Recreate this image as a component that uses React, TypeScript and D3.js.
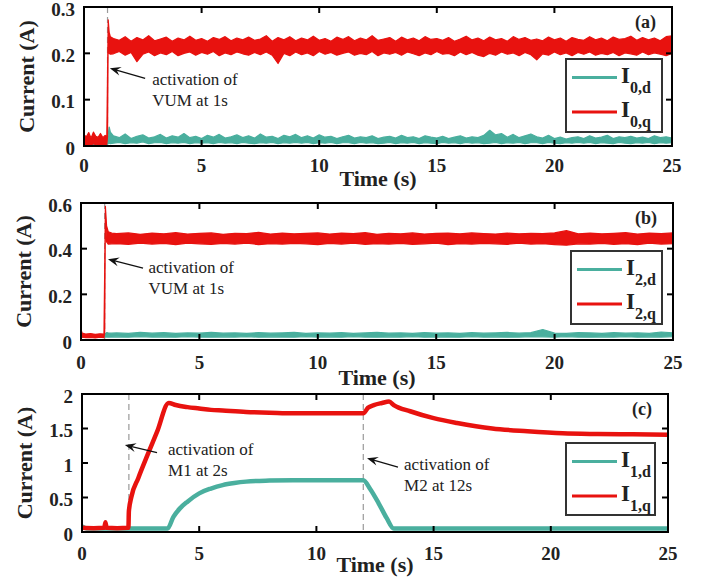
import React, { useRef, useEffect } from "react";
import * as d3 from "d3";

const TEAL = "#4aaf9e";
const RED = "#e8120f";
const SERIF = "'Liberation Serif', 'Times New Roman', serif";

const xTicks = [0, 5, 10, 15, 20, 25];
const yTicksA = [0, 0.1, 0.2, 0.3];
const yTicksB = [0, 0.2, 0.4, 0.6];
const yTicksC = [0, 0.5, 1, 1.5, 2];

// ---- panel (a): I0 (noisy, kept as upper / lower envelope per sample) ----
const tA = [0, 0.1, 0.2, 0.3, 0.4, 0.5, 0.6, 0.7, 0.8, 0.9, 0.97, 1.0, 1.03, 1.07, 1.12].concat(
  d3.range(1.25, 25.001, 0.25)
);
const i0qHi = [
  0.024, 0.02, 0.029, 0.017, 0.03, 0.021, 0.019, 0.027, 0.018, 0.023, 0.02, 0.15, 0.272, 0.245, 0.236,
  0.232, 0.228, 0.236, 0.226, 0.234, 0.229, 0.238, 0.227,
  0.231, 0.235, 0.226, 0.233, 0.229, 0.237, 0.228, 0.232,
  0.226, 0.234, 0.23, 0.236, 0.227, 0.233, 0.229, 0.235,
  0.228, 0.231, 0.238, 0.226, 0.234, 0.229, 0.236, 0.227,
  0.233, 0.229, 0.237, 0.228, 0.232, 0.226, 0.235, 0.23,
  0.236, 0.227, 0.233, 0.229, 0.238, 0.228, 0.231, 0.234,
  0.226, 0.235, 0.229, 0.233, 0.227, 0.236, 0.23, 0.232,
  0.228, 0.234, 0.226, 0.231, 0.237, 0.229, 0.233, 0.227,
  0.235, 0.229, 0.232, 0.226, 0.236, 0.23, 0.234, 0.228,
  0.231, 0.227, 0.235, 0.229, 0.233, 0.226, 0.234, 0.23,
  0.228, 0.236, 0.229, 0.233, 0.227, 0.235, 0.23, 0.232,
  0.237, 0.228, 0.234, 0.229, 0.233, 0.227, 0.236, 0.238,
];
const i0qLo = [
  0.002, 0.004, 0.003, 0.002, 0.005, 0.003, 0.002, 0.004, 0.003, 0.002, 0.004, 0.02, 0.25, 0.2, 0.198,
  0.199, 0.204, 0.196, 0.202, 0.182, 0.198, 0.203, 0.195,
  0.201, 0.197, 0.204, 0.195, 0.2, 0.203, 0.196, 0.202,
  0.198, 0.204, 0.195, 0.201, 0.197, 0.203, 0.199, 0.196,
  0.202, 0.197, 0.203, 0.196, 0.178, 0.2, 0.195, 0.203,
  0.197, 0.201, 0.195, 0.204, 0.198, 0.202, 0.196, 0.2,
  0.203, 0.196, 0.2, 0.197, 0.204, 0.195, 0.201, 0.198,
  0.202, 0.196, 0.203, 0.199, 0.195, 0.201, 0.197, 0.204,
  0.198, 0.2, 0.195, 0.203, 0.197, 0.202, 0.196, 0.193,
  0.2, 0.196, 0.203, 0.198, 0.201, 0.195, 0.202, 0.197,
  0.186, 0.199, 0.196, 0.203, 0.197, 0.201, 0.195, 0.202,
  0.198, 0.203, 0.196, 0.2, 0.197, 0.202, 0.195, 0.201,
  0.199, 0.196, 0.203, 0.197, 0.201, 0.198, 0.195, 0.2,
];
const i0dHi = [
  0.012, 0.01, 0.013, 0.009, 0.012, 0.011, 0.01, 0.013, 0.01, 0.011, 0.01, 0.012, 0.024, 0.041, 0.03,
  0.022, 0.018, 0.026, 0.016, 0.021, 0.024, 0.017, 0.02,
  0.025, 0.017, 0.022, 0.019, 0.027, 0.018, 0.021, 0.016,
  0.023, 0.019, 0.025, 0.017, 0.02, 0.024, 0.018, 0.022,
  0.017, 0.026, 0.019, 0.021, 0.016, 0.023, 0.02, 0.025,
  0.018, 0.022, 0.017, 0.024, 0.019, 0.021, 0.016, 0.02,
  0.023, 0.017, 0.02, 0.018, 0.022, 0.016, 0.019, 0.021,
  0.017, 0.023, 0.018, 0.02, 0.016, 0.022, 0.019, 0.017,
  0.021, 0.016, 0.019, 0.022, 0.017, 0.02, 0.018, 0.023,
  0.034, 0.024, 0.027, 0.019, 0.025, 0.018, 0.022, 0.026,
  0.02, 0.017, 0.023, 0.016, 0.019, 0.015, 0.018, 0.02,
  0.016, 0.022, 0.017, 0.019, 0.023, 0.016, 0.02, 0.018,
  0.021, 0.017, 0.019, 0.016, 0.022, 0.018, 0.02, 0.017,
];
const i0dLo = [
  0.003, 0.003, 0.004, 0.003, 0.003, 0.004, 0.003, 0.003, 0.004, 0.003, 0.003, 0.004, 0.005, 0.006, 0.005,
  0.006, 0.008, 0.005, 0.007, 0.006, 0.009, 0.005, 0.007,
  0.008, 0.005, 0.007, 0.006, 0.008, 0.005, 0.007, 0.006,
  0.007, 0.005, 0.008, 0.006, 0.007, 0.005, 0.008, 0.006,
  0.005, 0.007, 0.006, 0.008, 0.005, 0.007, 0.006, 0.008,
  0.006, 0.008, 0.005, 0.007, 0.006, 0.008, 0.005, 0.007,
  0.007, 0.005, 0.008, 0.006, 0.007, 0.005, 0.006, 0.008,
  0.005, 0.007, 0.006, 0.008, 0.005, 0.007, 0.006, 0.005,
  0.008, 0.006, 0.007, 0.005, 0.008, 0.006, 0.007, 0.005,
  0.006, 0.008, 0.005, 0.007, 0.006, 0.008, 0.005, 0.007,
  0.007, 0.005, 0.008, 0.006, 0.005, 0.007, 0.006, 0.008,
  0.006, 0.008, 0.005, 0.007, 0.006, 0.005, 0.008, 0.006,
  0.005, 0.007, 0.006, 0.008, 0.005, 0.007, 0.006, 0.007,
];

// ---- panel (b): I2 ----
const tB = [0, 0.05, 0.2, 0.4, 0.6, 0.8, 0.97, 1.0, 1.03, 1.08, 1.15, 1.3].concat(d3.range(1.5, 25.001, 0.5));
const i2qHi = [
  0.045, 0.03, 0.026, 0.028, 0.025, 0.027, 0.026, 0.3, 0.585, 0.5, 0.474, 0.468,
  0.466, 0.469, 0.463, 0.468, 0.465, 0.47, 0.464, 0.467,
  0.469, 0.463, 0.467, 0.466, 0.471, 0.464, 0.468, 0.465,
  0.467, 0.469, 0.464, 0.468, 0.466, 0.47, 0.463, 0.467,
  0.465, 0.469, 0.464, 0.467, 0.468, 0.465, 0.469, 0.466,
  0.464, 0.468, 0.465, 0.467, 0.466, 0.469, 0.479, 0.465,
  0.468, 0.465, 0.467, 0.47, 0.464, 0.468, 0.466, 0.469,
];
const i2qLo = [
  0.02, 0.012, 0.01, 0.011, 0.009, 0.012, 0.01, 0.03, 0.55, 0.43, 0.42, 0.421,
  0.422, 0.419, 0.424, 0.42, 0.423, 0.418, 0.424, 0.421,
  0.419, 0.423, 0.42, 0.424, 0.418, 0.422, 0.42, 0.423,
  0.421, 0.418, 0.423, 0.42, 0.424, 0.419, 0.422, 0.42,
  0.423, 0.419, 0.421, 0.424, 0.418, 0.422, 0.42, 0.423,
  0.421, 0.419, 0.424, 0.42, 0.422, 0.418, 0.415, 0.421,
  0.42, 0.423, 0.419, 0.422, 0.418, 0.424, 0.42, 0.422,
];
const i2dHi = [
  0.03, 0.025, 0.022, 0.024, 0.022, 0.023, 0.022, 0.024, 0.028, 0.032, 0.031, 0.03,
  0.031, 0.029, 0.033, 0.03, 0.032, 0.029, 0.031, 0.03,
  0.033, 0.03, 0.031, 0.029, 0.032, 0.03, 0.031, 0.033,
  0.029, 0.031, 0.03, 0.032, 0.029, 0.031, 0.033, 0.03,
  0.031, 0.029, 0.032, 0.03, 0.031, 0.029, 0.032, 0.03,
  0.031, 0.033, 0.03, 0.032, 0.046, 0.03, 0.029, 0.032,
  0.031, 0.029, 0.032, 0.03, 0.031, 0.029, 0.035, 0.031,
];
const i2dLo = [
  0.012, 0.011, 0.012, 0.011, 0.012, 0.011, 0.012, 0.012, 0.013, 0.013, 0.012, 0.013,
  0.014, 0.012, 0.015, 0.013, 0.014, 0.012, 0.015, 0.013,
  0.012, 0.014, 0.013, 0.015, 0.012, 0.014, 0.013, 0.012,
  0.015, 0.013, 0.014, 0.012, 0.015, 0.013, 0.012, 0.014,
  0.013, 0.015, 0.012, 0.014, 0.013, 0.012, 0.015, 0.013,
  0.014, 0.012, 0.013, 0.015, 0.014, 0.012, 0.015, 0.013,
  0.012, 0.014, 0.013, 0.015, 0.012, 0.014, 0.013, 0.015,
];

// ---- panel (c): I1 (smooth, drawn as thick lines) ----
const tCq = [0, 0.5, 0.95, 1.0, 1.05, 1.5, 1.98, 2.0, 2.1, 2.4, 2.8, 3.2, 3.7, 4.0, 4.5, 5, 5.5, 6, 7, 8, 9, 10, 11, 12, 12.2, 12.45, 12.8, 13.1, 13.3, 14, 15, 16, 17.5, 19, 20.5, 22, 23.5, 25];
const i1q = [0.06, 0.055, 0.06, 0.14, 0.06, 0.055, 0.06, 0.3, 0.5, 0.78, 1.12, 1.45, 1.87, 1.84, 1.81, 1.79, 1.77, 1.76, 1.74, 1.73, 1.72, 1.72, 1.72, 1.72, 1.8, 1.84, 1.87, 1.89, 1.84, 1.75, 1.65, 1.58, 1.5, 1.46, 1.43, 1.42, 1.415, 1.41];
const tCd = [0, 0.2, 1, 2, 3, 3.65, 3.9, 4.2, 4.5, 5, 5.5, 6, 6.5, 7, 8, 9, 10, 11, 12, 12.3, 12.65, 13, 13.3, 14, 17, 20, 25];
const i1d = [0.08, 0.05, 0.05, 0.05, 0.05, 0.05, 0.22, 0.35, 0.44, 0.56, 0.63, 0.68, 0.71, 0.73, 0.745, 0.75, 0.75, 0.75, 0.75, 0.62, 0.42, 0.2, 0.05, 0.05, 0.05, 0.05, 0.05];

const panels = [
  {
    tag: "(a)", left: 84, right: 672, top: 7, bottom: 146, yMax: 0.3, yTicks: yTicksA,
    tickGap: 26, titleGap: 40,
    markers: [1],
    series: [
      { t: tA, hi: i0dHi, lo: i0dLo, color: TEAL },
      { t: tA, hi: i0qHi, lo: i0qLo, color: RED },
    ],
    legend: { x: 566, y: 59, w: 96, h: 73, sub: ["0,d", "0,q"] },
    notes: [{ tip: [1.1, 0.168], tail: [2.6, 0.146], at: [2.9, 0.131], lines: ["activation of", "VUM at 1s"] }],
  },
  {
    tag: "(b)", left: 81, right: 673, top: 203, bottom: 340, yMax: 0.6, yTicks: yTicksB,
    tickGap: 28.5, titleGap: 45,
    markers: [1],
    series: [
      { t: tB, hi: i2dHi, lo: i2dLo, color: TEAL },
      { t: tB, hi: i2qHi, lo: i2qLo, color: RED },
    ],
    legend: { x: 571, y: 251, w: 91, h: 73, sub: ["2,d", "2,q"] },
    notes: [{ tip: [1.14, 0.354], tail: [2.62, 0.315], at: [2.85, 0.293], lines: ["activation of", "VUM at 1s"] }],
  },
  {
    tag: "(c)", left: 82, right: 668, top: 394, bottom: 532, yMax: 2, yTicks: yTicksC,
    tickGap: 27.5, titleGap: 40,
    markers: [2, 12],
    series: [
      { t: tCd, v: i1d, color: TEAL },
      { t: tCq, v: i1q, color: RED },
    ],
    legend: { x: 566, y: 443, w: 89, h: 72, sub: ["1,d", "1,q"] },
    notes: [
      { tip: [1.83, 1.26], tail: [3.2, 1.15], at: [3.67, 1.12], lines: ["activation of", "M1 at 2s"] },
      { tip: [12.16, 1.07], tail: [13.48, 0.94], at: [13.74, 0.9], lines: ["activation of", "M2 at 12s"] },
    ],
  },
];

function drawPanel(svg, p) {
  const x = d3.scaleLinear().domain([0, 25]).range([p.left, p.right]);
  const y = d3.scaleLinear().domain([0, p.yMax]).range([p.bottom, p.top]);
  const g = svg.append("g");

  // dashed event markers
  p.markers.forEach((t) => {
    g.append("line")
      .attr("x1", x(t)).attr("x2", x(t))
      .attr("y1", p.top).attr("y2", p.bottom)
      .attr("stroke", "#9a9a9a")
      .attr("stroke-width", 1.2)
      .attr("stroke-dasharray", "6,4");
  });

  p.series.forEach((s) => {
    if (s.hi) {
      const area = d3.area()
        .x((_, i) => x(s.t[i]))
        .y0((_, i) => y(s.lo[i]))
        .y1((d) => y(d));
      g.append("path")
        .attr("d", area(s.hi))
        .attr("fill", s.color)
        .attr("stroke", s.color)
        .attr("stroke-width", 1.2)
        .attr("stroke-linejoin", "round");
    } else {
      const line = d3.line()
        .x((_, i) => x(s.t[i]))
        .y((d) => y(d))
        .curve(d3.curveMonotoneX);
      g.append("path")
        .attr("d", line(s.v))
        .attr("fill", "none")
        .attr("stroke", s.color)
        .attr("stroke-width", 4.5)
        .attr("stroke-linejoin", "round");
    }
  });

  // frame and inward ticks on all four sides
  g.append("rect")
    .attr("x", p.left).attr("y", p.top)
    .attr("width", p.right - p.left).attr("height", p.bottom - p.top)
    .attr("fill", "none").attr("stroke", "#000").attr("stroke-width", 2);

  const tk = 6;
  xTicks.forEach((t) => {
    g.append("line").attr("x1", x(t)).attr("x2", x(t)).attr("y1", p.bottom).attr("y2", p.bottom - tk)
      .attr("stroke", "#000").attr("stroke-width", 2);
    g.append("line").attr("x1", x(t)).attr("x2", x(t)).attr("y1", p.top).attr("y2", p.top + tk)
      .attr("stroke", "#000").attr("stroke-width", 2);
    g.append("text")
      .attr("x", x(t)).attr("y", p.bottom + p.tickGap)
      .attr("text-anchor", "middle")
      .attr("font-family", SERIF).attr("font-weight", "bold").attr("font-size", 19)
      .attr("fill", "#222")
      .text(t);
  });
  p.yTicks.forEach((v) => {
    g.append("line").attr("x1", p.left).attr("x2", p.left + tk).attr("y1", y(v)).attr("y2", y(v))
      .attr("stroke", "#000").attr("stroke-width", 2);
    g.append("line").attr("x1", p.right).attr("x2", p.right - tk).attr("y1", y(v)).attr("y2", y(v))
      .attr("stroke", "#000").attr("stroke-width", 2);
    g.append("text")
      .attr("x", p.left - 9).attr("y", y(v))
      .attr("dy", "0.45em")
      .attr("text-anchor", "end")
      .attr("font-family", SERIF).attr("font-weight", "bold").attr("font-size", 19)
      .attr("fill", "#222")
      .text(v);
  });

  // axis titles
  g.append("text")
    .attr("x", (p.left + p.right) / 2).attr("y", p.bottom + p.titleGap)
    .attr("text-anchor", "middle")
    .attr("font-family", SERIF).attr("font-weight", "bold").attr("font-size", 22)
    .attr("fill", "#222")
    .text("Time (s)");
  g.append("text")
    .attr("transform", `translate(${p.left - 58},${(p.top + p.bottom) / 2}) rotate(-90)`)
    .attr("dy", "0.35em")
    .attr("text-anchor", "middle")
    .attr("font-family", SERIF).attr("font-weight", "bold").attr("font-size", 22)
    .attr("fill", "#222")
    .text("Current (A)");

  g.append("text")
    .attr("x", p.right - 16).attr("y", p.top + 21)
    .attr("text-anchor", "end")
    .attr("font-family", SERIF).attr("font-weight", "bold").attr("font-size", 18)
    .attr("fill", "#222")
    .text(p.tag);

  // annotations
  p.notes.forEach((n) => {
    const [tx, ty] = [x(n.tip[0]), y(n.tip[1])];
    const [bx, by] = [x(n.tail[0]), y(n.tail[1])];
    const ang = Math.atan2(ty - by, tx - bx);
    const ux = Math.cos(ang), uy = Math.sin(ang);
    g.append("line").attr("x1", bx).attr("y1", by).attr("x2", tx - ux * 6).attr("y2", ty - uy * 6)
      .attr("stroke", "#111").attr("stroke-width", 1.3);
    const L = 11, Wd = 4.5;
    const head = [
      [tx, ty],
      [tx - ux * L - uy * Wd, ty - uy * L + ux * Wd],
      [tx - ux * 7, ty - uy * 7],
      [tx - ux * L + uy * Wd, ty - uy * L - ux * Wd],
    ];
    g.append("path").attr("d", "M" + head.map((q) => q.join(",")).join("L") + "Z").attr("fill", "#111");
    n.lines.forEach((s, i) => {
      g.append("text")
        .attr("x", x(n.at[0])).attr("y", y(n.at[1]) + i * 21)
        .attr("font-family", SERIF).attr("font-size", 17)
        .attr("fill", "#222")
        .text(s);
    });
  });

  // legend
  const lg = p.legend;
  g.append("rect")
    .attr("x", lg.x).attr("y", lg.y).attr("width", lg.w).attr("height", lg.h)
    .attr("fill", "#fff").attr("stroke", "#333").attr("stroke-width", 2);
  p.series.forEach((s, i) => {
    const ry = lg.y + (i === 0 ? 18.5 : 53);
    g.append("line")
      .attr("x1", lg.x + 6).attr("x2", lg.x + 51).attr("y1", ry).attr("y2", ry)
      .attr("stroke", s.color).attr("stroke-width", 3);
    g.append("text")
      .attr("x", lg.x + 55).attr("y", ry + 5)
      .attr("font-family", SERIF).attr("font-weight", "bold").attr("font-size", 23)
      .attr("fill", "#222")
      .text("I");
    g.append("text")
      .attr("x", lg.x + 64).attr("y", ry + 15)
      .attr("font-family", SERIF).attr("font-weight", "bold").attr("font-size", 16)
      .attr("fill", "#222")
      .text(lg.sub[i]);
  });
}

const App = () => {
  const svgRef = useRef(null);

  useEffect(() => {
    const svg = d3.select(svgRef.current);
    svg.selectAll("*").remove();
    panels.forEach((p) => drawPanel(svg, p));
  }, []);

  return (
    <svg
      ref={svgRef}
      width={709}
      height={584}
      style={{ position: "absolute", left: 0, top: 0, background: "#fff" }}
    />
  );
};

export default App;
